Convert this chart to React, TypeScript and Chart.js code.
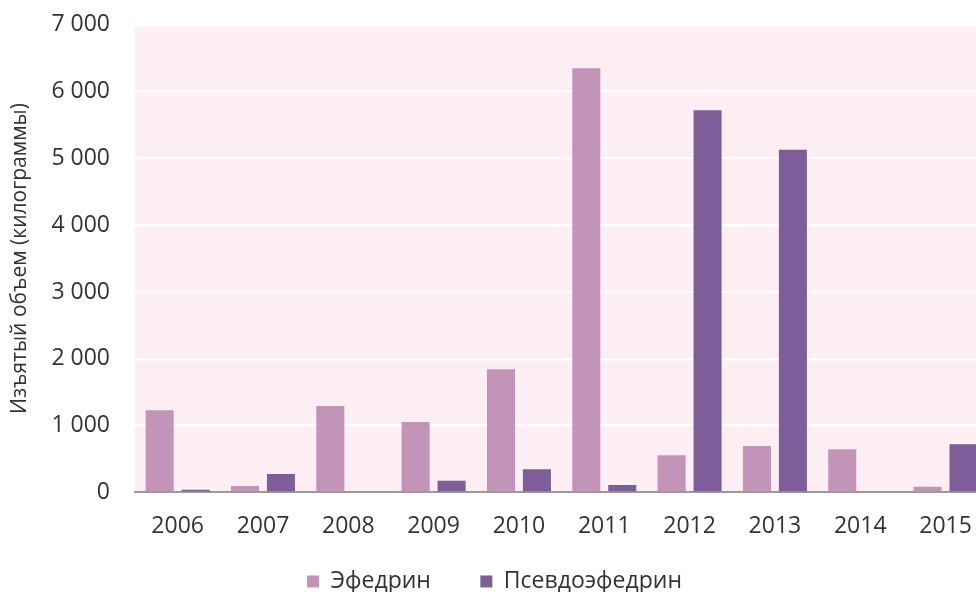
import React, { useEffect, useRef } from "react";
import { Chart, registerables } from "chart.js";

Chart.register(...registerables);

const years = ["2006", "2007", "2008", "2009", "2010", "2011", "2012", "2013", "2014", "2015"];
const ephedrine = [1230, 95, 1295, 1055, 1845, 6350, 555, 695, 645, 85];
const pseudoephedrine = [40, 275, 0, 175, 345, 110, 5720, 5130, 0, 720];
const seriesNames = ["Эфедрин", "Псевдоэфедрин"];
const seriesColors = ["#c194b8", "#7e5e99"];
const yTitle = "Изъятый объем (килограммы)";

const FONT = "'Open Sans', 'DejaVu Sans', sans-serif";

const plotBg = {
  id: "plotBg",
  beforeDraw(chart: any) {
    const { ctx, chartArea } = chart;
    if (!chartArea) return;
    ctx.save();
    ctx.fillStyle = "#fdeef3";
    ctx.fillRect(chartArea.left, chartArea.top, chartArea.right - chartArea.left, chartArea.bottom - chartArea.top);
    ctx.restore();
  },
};

function fmt(v: number) {
  return String(v).replace(/\B(?=(\d{3})+(?!\d))/g, " ");
}

export default function App() {
  const ref = useRef<HTMLCanvasElement | null>(null);
  useEffect(() => {
    if (!ref.current) return;
    const chart = new Chart(ref.current, {
      type: "bar",
      data: {
        labels: years,
        datasets: seriesNames.map((name, i) => ({
          label: name,
          data: i === 0 ? ephedrine : pseudoephedrine,
          backgroundColor: seriesColors[i],
          categoryPercentage: 0.843,
          barPercentage: 0.78,
        })),
      },
      options: {
        responsive: false,
        animation: false,
        layout: { padding: { top: 0, right: 3, left: 0, bottom: 0 } },
        plugins: {
          legend: {
            position: "bottom",
            labels: {
              color: "#333",
              font: { family: FONT, size: 23 },
              boxWidth: 12,
              boxHeight: 12,
              padding: 10,
              generateLabels(chart: any) {
                const items = Chart.defaults.plugins.legend.labels.generateLabels(chart);
                return items.map((it: any, i: number) => ({
                  ...it,
                  text: i === 0 ? it.text + "\u2007\u2007\u2007" : it.text,
                  lineWidth: 0,
                }));
              },
            },
          },
          tooltip: { enabled: false },
        },
        scales: {
          x: {
            grid: { display: false, drawTicks: false },
            border: { display: true, color: "#9a9a9a", width: 2 },
            ticks: {
              color: "#333",
              font: { family: FONT, size: 23 },
              padding: 20,
              maxRotation: 0,
            },
          },
          y: {
            min: 0,
            max: 7000,
            afterFit(scale: any) {
              scale.width = 135;
            },
            grid: {
              color: "#ffffff",
              lineWidth: 2.5,
              drawTicks: true,
              tickLength: 14,
              tickColor: "rgba(0,0,0,0)",
            },
            border: { display: false },
            ticks: {
              stepSize: 1000,
              color: "#333",
              font: { family: FONT, size: 23 },
              padding: 11,
              callback: (v: any) => fmt(Number(v)),
            },
            title: {
              display: true,
              text: yTitle,
              color: "#333",
              font: { family: FONT, size: 21 },
              padding: { top: 7, bottom: 0 },
            },
          },
        },
      },
      plugins: [plotBg],
    });
    return () => chart.destroy();
  }, []);
  return (
    <div style={{ position: "fixed", left: 0, top: 0, width: 976, height: 592, overflow: "hidden", background: "#fff" }}>
      <canvas ref={ref} width={992} height={603} style={{ display: "block" }} />
    </div>
  );
}
